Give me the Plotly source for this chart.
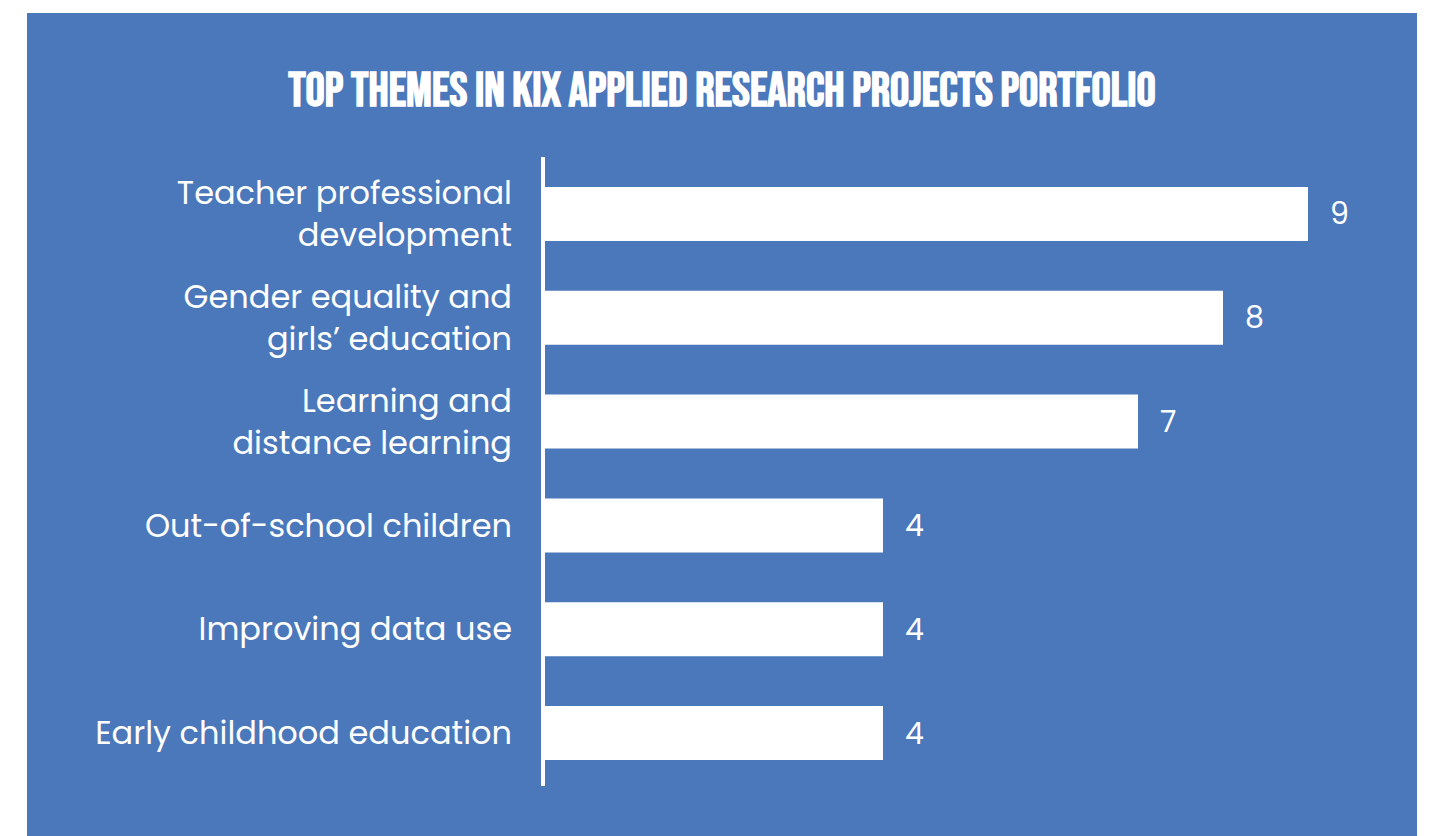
import plotly.graph_objects as go

categories = [
    "Teacher professional<br>development",
    "Gender equality and<br>girls’ education",
    "Learning and<br>distance learning",
    "Out-of-school children",
    "Improving data use",
    "Early childhood education",
]
values = [9, 8, 7, 4, 4, 4]
title_text = "TOP THEMES IN KIX APPLIED RESEARCH PROJECTS PORTFOLIO"

BLUE = "#4a78bb"
OFF = 8  # page body margin
W, H = 1437 - OFF, 836 - OFF
L, R, T, B = 535, 44, 154, 51
pw, ph = W - L - R, H - T - B

def px_x(p):
    return (p - OFF - L) / pw

def px_y(p):
    return (H - B - (p - OFF)) / ph

fig = go.Figure()
fig.add_trace(go.Bar(
    x=values, y=categories, orientation="h",
    marker=dict(color="white", line=dict(width=0)),
    hoverinfo="skip",
))

for c, v in zip(categories, values):
    fig.add_annotation(x=v, y=c, text=str(v), showarrow=False,
                       xanchor="left", yanchor="middle", xshift=20,
                       font=dict(family="Poppins, Open Sans, sans-serif", size=30, color="white"))

fig.add_shape(type="rect", xref="paper", yref="paper",
              x0=px_x(27), x1=px_x(1417), y0=px_y(840), y1=px_y(13),
              fillcolor=BLUE, line=dict(width=0), layer="below")
fig.add_shape(type="line", xref="paper", yref="paper",
              x0=0, x1=0, y0=px_y(786), y1=px_y(157),
              line=dict(color="white", width=4), layer="above")

fig.update_layout(
    width=W, height=H,
    margin=dict(l=L, r=R, t=T, b=B),
    paper_bgcolor="white", plot_bgcolor="rgba(0,0,0,0)",
    bargap=0.48, showlegend=False,
    title=dict(text=title_text, x=(722 - OFF) / W, xanchor="center", y=1 - (89 - OFF) / H, yanchor="middle",
               font=dict(family="Bebas Neue, Oswald, Liberation Sans Narrow, DejaVu Sans Condensed, sans-serif",
                         size=48, color="white", weight="bold")),
    xaxis=dict(range=[0, 10], visible=False, fixedrange=True),
    yaxis=dict(autorange="reversed", showgrid=False, zeroline=False, showline=False,
               ticks="", ticklabelstandoff=30,
               tickfont=dict(family="Poppins, Open Sans, sans-serif", size=32, color="white")),
)

fig.write_html("out.html")
